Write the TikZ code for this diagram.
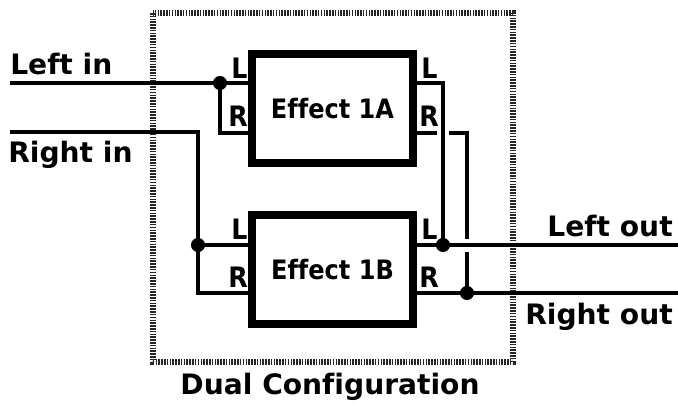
\documentclass[tikz,border=0pt]{standalone}
\usepackage{fontspec}
\setmainfont[Ligatures=NoCommon]{DejaVu Sans}
\newfontfamily\condfont[Ligatures=NoCommon]{DejaVu Sans Condensed}
\begin{document}
\begin{tikzpicture}[x=0.025cm,y=-0.025cm,
  wire/.style={line width=2.2pt},
  frame/.style={line width=3.8pt,black!85,dash pattern=on 1.1pt off 0.9pt},
  fxbox/.style={draw,line width=5.6pt,minimum width=4.02cm,minimum height=2.72cm,
    inner sep=0pt,font=\condfont\fontsize{19}{21}\selectfont\bfseries},
  port/.style={inner sep=0pt,font=\condfont\fontsize{20}{22}\selectfont\bfseries},
  lbl/.style={inner sep=0pt,font=\fontsize{20}{24}\selectfont\bfseries},
  dot/.style={circle,fill,inner sep=0pt,minimum size=10pt}]
  \useasboundingbox (0,0) rectangle (678,405);
  % dotted frame
  \draw[frame] (153,13) rectangle (513,362);
  % effect boxes
  \node[fxbox] (fxA) at (332.5,108.5) {Effect 1A};
  \node[fxbox] (fxB) at (332.5,269.5) {Effect 1B};
  % ports
  \coordinate (aLin) at (252,83);
  \coordinate (aRin) at (252,133);
  \coordinate (aLout) at (413,83);
  \coordinate (aRout) at (413,133);
  \coordinate (bLin) at (252,245);
  \coordinate (bRin) at (252,293);
  \coordinate (bLout) at (413,245);
  \coordinate (bRout) at (413,293);
  % ends and junctions
  \coordinate (inL) at (10,83);
  \coordinate (inR) at (10,132);
  \coordinate (outL) at (678,245);
  \coordinate (outR) at (678,293);
  \coordinate (jLin) at (220,83);
  \coordinate (jRin) at (198,245);
  \coordinate (jLout) at (443,245);
  \coordinate (jRout) at (467,293);
  \coordinate (hopA) at (437,133);
  \coordinate (hopB) at (449,133);
  \coordinate (hopC) at (467,239);
  \coordinate (hopD) at (467,252);
  % inputs
  \draw[wire] (inL) -- (jLin) -- (aLin);
  \draw[wire] (jLin) |- (aRin);
  \draw[wire] (inR) -| (jRin) -- (bLin);
  \draw[wire] (jRin) |- (bRin);
  % outputs
  \draw[wire] (aLout) -| (jLout);
  \draw[wire] (bLout) -- (jLout) -- (outL);
  \draw[wire] (aRout) -- (hopA);
  \draw[wire] (hopB) -| (hopC);
  \draw[wire] (hopD) -- (jRout);
  \draw[wire] (bRout) -- (jRout) -- (outR);
  \foreach \j in {jLin,jRin,jLout,jRout}
    \node[dot] at (\j) {};
  % port letters
  \node[port,anchor=base west] (pAL) at (231,79) {L};
  \node[port,anchor=base west] (pAR) at (228,127) {R};
  \node[port,anchor=base west] (pAL2) at (421,79) {L};
  \node[port,anchor=base west] (pAR2) at (419,127) {R};
  \node[port,anchor=base west] (pBL) at (231,240) {L};
  \node[port,anchor=base west] (pBR) at (228,288) {R};
  \node[port,anchor=base west] (pBL2) at (421,240) {L};
  \node[port,anchor=base west] (pBR2) at (419,288) {R};
  % labels
  \node[lbl,anchor=base west] (tLin) at (10,75) {Left in};
  \node[lbl,anchor=base west] (tRin) at (8,163) {Right in};
  \node[lbl,anchor=base east] (tLout) at (673,237) {Left out};
  \node[lbl,anchor=base east] (tRout) at (673,325) {Right out};
  \node[lbl,anchor=base] (tDual) at (330,395) {Dual Configuration};
\end{tikzpicture}
\end{document}
